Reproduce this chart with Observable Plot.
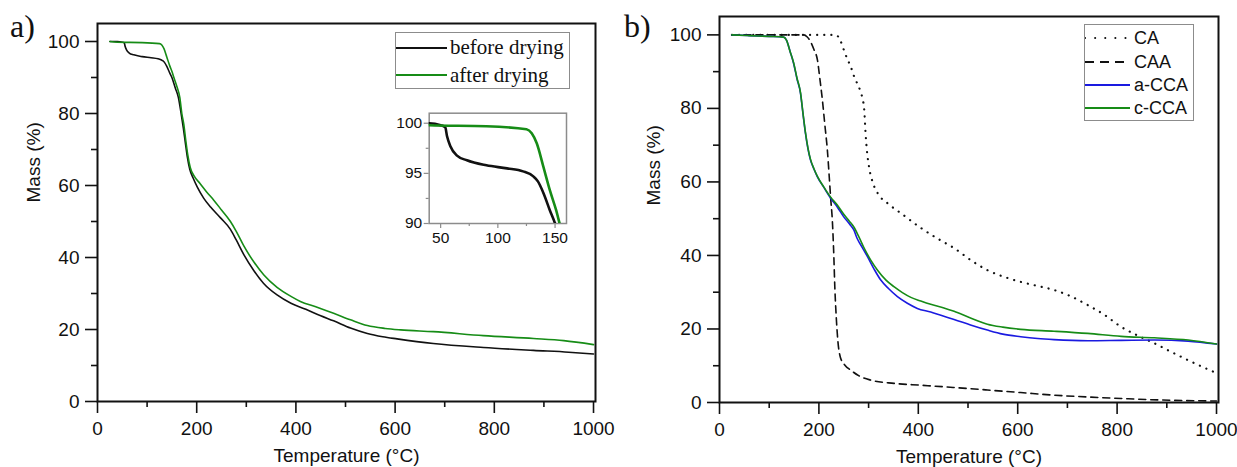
<!DOCTYPE html>
<html><head><meta charset="utf-8">
<script src="https://cdn.jsdelivr.net/npm/d3@7"></script>
<script src="https://cdn.jsdelivr.net/npm/@observablehq/plot@0.6"></script>
<style>
body{margin:0;background:#fff;}
#root{position:relative;width:1237px;height:467px;overflow:hidden;font-family:"Liberation Sans",Arial,sans-serif;color:#111;}
.plab{position:absolute;font-family:"Liberation Serif","Times New Roman",serif;font-size:32px;line-height:1;}
.leg{position:absolute;border:1px solid #8c8c8c;background:#fff;box-sizing:border-box;}
.row{position:absolute;left:0;display:flex;align-items:center;white-space:nowrap;}
</style></head><body><div id="root"></div>
<script>
// ---------- data (temperature °C, mass %) ----------
const beforeDrying = [[25,100],[40,100],[50,99.8],[54,99.6],[55.6,98.7],[58.5,97.7],[64,96.8],[73,96.3],[90,95.8],[108,95.5],[122,95.2],[131,94.7],[135,94.2],[140,93],[145.5,91.3],[150,90],[157,87],[163,84.5],[168,80.5],[173,76],[177,72],[181,68],[186,64.5],[193,62],[201,59.6],[214,56.5],[228,54],[248,51],[268,47.8],[280,44.8],[295,40.8],[315,36.4],[335,32.8],[362,29.6],[390,27.3],[420,25.6],[450,23.8],[476,22.4],[510,20.4],[544,18.9],[575,18],[604,17.4],[677,16.1],[778,15],[879,14.2],[950,13.7],[1000,13.2]];
const afterDrying = [[25,100],[40,99.8],[90,99.7],[125,99.4],[129.6,99],[134,98],[139.7,95.7],[145.5,93.3],[151,91.3],[154,90],[160,87.5],[166,84.4],[170,80],[174,77],[178,72.5],[182,68.5],[187,65],[195,62.6],[207,60.5],[220,58.2],[234,56],[250,53.2],[268,50],[280,47.2],[295,43.2],[315,38.8],[335,35.2],[362,31.7],[390,29.2],[409,27.8],[440,26.3],[476,24.5],[510,22.7],[544,21.1],[580,20.3],[611,19.9],[677,19.4],[778,18.3],[879,17.5],[940,16.9],[1000,15.8]];

const CA = [[25,100],[100,100],[200,100],[234,100],[243,98.5],[250,96],[257,93.5],[264,91.4],[270,89],[277,86.8],[284,84.5],[288,82.5],[291,80],[294,73],[297,68],[301,64],[308,60],[318,57],[340,54],[365,51.5],[405,47.5],[440,44.5],[472,42],[506,38.7],[539,36],[570,34.3],[606,32.8],[640,31.7],[673,30.6],[705,29],[741,26.5],[775,23.8],[808,20.6],[840,18.3],[875,16.1],[910,13.7],[943,11.5],[970,9.8],[1000,8]];
const CAA = [[25,100],[100,100],[170,100],[176,99.5],[183,98.2],[190,96],[197,93.2],[202,88],[207,82.3],[212,75.5],[217,68.7],[221,61],[224,55],[227,49.6],[230,40],[232,31.5],[235,23],[238,17],[243,12.4],[252,10.2],[264,8.8],[280,7.3],[304,6.1],[351,5.2],[405,4.7],[470,4.1],[539,3.4],[606,2.7],[673,2],[740,1.5],[808,1.1],[860,0.8],[909,0.6],[1000,0.4]];
const aCCA = [[25,100],[60,99.8],[100,99.6],[129,99.4],[135,98.5],[142,95.5],[149,92.3],[156,88],[163,84.1],[168,78.5],[173,73.2],[178,69],[183,66],[190,63.5],[197,61.4],[210,58.5],[224,55.5],[237,53.2],[250,50.5],[262,48.5],[270,47],[277,44.6],[288,42],[298,39.6],[311,36.3],[324.5,33.3],[340,31],[358,28.8],[378,27],[398,25.6],[425,24.6],[450,23.5],[472,22.6],[505,21.1],[539,19.7],[570,18.6],[606,17.9],[640,17.4],[673,17.1],[741,16.8],[808,16.9],[875,17],[943,16.7],[1000,15.9]];
const cCCA = [[25,100],[60,99.8],[100,99.6],[129,99.4],[135,98.5],[142,95.5],[149,92.5],[156,88.2],[163,84.3],[168,78.7],[173,73.4],[178,69.2],[183,66.2],[190,63.6],[197,61.5],[210,58.6],[224,55.8],[237,53.7],[250,51.2],[262,49.2],[270,47.8],[280,45.2],[290,42.3],[304,38.8],[318,36],[335,33.3],[351,31.5],[368,29.9],[385,28.6],[405,27.6],[425,26.7],[450,25.8],[472,24.8],[505,23],[539,21.3],[570,20.5],[606,19.9],[673,19.4],[741,18.8],[808,18],[875,17.6],[943,17],[1000,15.9]];

// ---------- ticks / labels ----------
const xTicks = [0,200,400,600,800,1000];
const xMinor = [100,300,500,700,900];
const yTicks = [0,20,40,60,80,100];
const yMinor = [10,30,50,70,90];
const insetXTicks = [50,100,150];
const insetXMinor = [75,125];
const insetYTicks = [90,95,100];
const insetYMinor = [92.5,97.5];
const xLabel = "Temperature (°C)";
const yLabel = "Mass (%)";
const legendA = ["before drying","after drying"];
const legendB = ["CA","CAA","a-CCA","c-CCA"];

const BLACK = "#111", GREEN = "#168c16", BLUE = "#1a1ae0";
const root = document.getElementById("root");
const FONT = "Liberation Sans, Arial, sans-serif";
const fmt = d => String(d);

const line = (data, stroke, sw, extra = {}) =>
  Plot.line(data, {x: d => d[0], y: d => d[1], stroke, strokeWidth: sw, curve: "monotone-x", ...extra});

function mainAxes(lbDx, lbDy) {
  return [
    Plot.axisX(xTicks, {tickSize: 12, tickPadding: 8, fontSize: 19, strokeWidth: 1.6, tickFormat: fmt, label: null}),
    Plot.axisX(xMinor, {tickSize: 6, tickFormat: () => "", strokeWidth: 1.6, label: null}),
    Plot.axisY(yTicks, {tickSize: 12, tickPadding: 6, fontSize: 19, strokeWidth: 1.6, tickFormat: fmt, label: null}),
    Plot.axisY(yMinor, {tickSize: 6, tickFormat: () => "", strokeWidth: 1.6, label: null}),
    Plot.frame({stroke: BLACK, strokeWidth: 2}),
    Plot.text([xLabel], {frameAnchor: "bottom", dy: 60, fontSize: 19, fill: BLACK}),
    Plot.text([yLabel], {frameAnchor: "left", rotate: -90, dx: lbDx, dy: lbDy, fontSize: 19, fill: BLACK})
  ];
}

// ---------- panel a ----------
const plotA = Plot.plot({
  width: 620, height: 467,
  marginLeft: 97, marginRight: 25, marginTop: 23, marginBottom: 66,
  x: {domain: [0, 1004]}, y: {domain: [0, 105]},
  style: {background: "transparent", fontFamily: FONT, color: BLACK, overflow: "visible"},
  marks: [
    ...mainAxes(-64, -10),
    line(beforeDrying, BLACK, 1.6),
    line(afterDrying, GREEN, 1.6)
  ]
});
plotA.style.position = "absolute"; plotA.style.left = "0px"; plotA.style.top = "0px";
root.appendChild(plotA);

// ---------- inset ----------
const inset = Plot.plot({
  width: 200, height: 170,
  marginLeft: 48.7, marginRight: 14, marginTop: 22.7, marginBottom: 37,
  x: {domain: [40, 160]}, y: {domain: [90, 101]},
  style: {background: "transparent", fontFamily: FONT, color: BLACK, overflow: "visible"},
  marks: [
    Plot.axisX(insetXTicks, {tickSize: 5, tickPadding: 3, fontSize: 15.5, stroke: "#8c8c8c", strokeWidth: 1.2, tickFormat: fmt, label: null}),
    Plot.axisX(insetXMinor, {tickSize: 3, tickFormat: () => "", stroke: "#8c8c8c", strokeWidth: 1.2, label: null}),
    Plot.axisY(insetYTicks, {tickSize: 5, tickPadding: 2, fontSize: 15.5, stroke: "#8c8c8c", strokeWidth: 1.2, tickFormat: fmt, label: null}),
    Plot.axisY(insetYMinor, {tickSize: 3, tickFormat: () => "", stroke: "#8c8c8c", strokeWidth: 1.2, label: null}),
    Plot.frame({stroke: "#8c8c8c", strokeWidth: 1.5}),
    line(beforeDrying, BLACK, 2.6, {clip: true}),
    line(afterDrying, GREEN, 2.6, {clip: true})
  ]
});
inset.style.position = "absolute"; inset.style.left = "380px"; inset.style.top = "90px";
root.appendChild(inset);

// ---------- panel b ----------
const plotB = Plot.plot({
  width: 617, height: 467,
  marginLeft: 99, marginRight: 19, marginTop: 16, marginBottom: 65,
  x: {domain: [0, 1004]}, y: {domain: [0, 105]},
  style: {background: "transparent", fontFamily: FONT, color: BLACK, overflow: "visible"},
  marks: [
    ...mainAxes(-66, -4),
    line(CA, BLACK, 2.2, {strokeDasharray: "0.1 7", strokeLinecap: "round"}),
    line(CAA, BLACK, 1.6, {strokeDasharray: "7 5"}),
    line(aCCA, BLUE, 1.6),
    line(cCCA, GREEN, 1.6)
  ]
});
plotB.style.position = "absolute"; plotB.style.left = "620px"; plotB.style.top = "0px";
root.appendChild(plotB);

// ---------- panel labels ----------
function addLabel(text, left, top) {
  const d = document.createElement("div");
  d.className = "plab"; d.textContent = text;
  d.style.left = left + "px"; d.style.top = top + "px";
  root.appendChild(d);
}
addLabel("a)", 10, 10);
addLabel("b)", 624, 10);

// ---------- legends ----------
function swatch(w, stroke, sw, dash, cap) {
  const ns = "http://www.w3.org/2000/svg";
  const s = document.createElementNS(ns, "svg");
  s.setAttribute("width", w); s.setAttribute("height", 6);
  const l = document.createElementNS(ns, "line");
  l.setAttribute("x1", 0); l.setAttribute("x2", w); l.setAttribute("y1", 3); l.setAttribute("y2", 3);
  l.setAttribute("stroke", stroke); l.setAttribute("stroke-width", sw);
  if (dash) l.setAttribute("stroke-dasharray", dash);
  if (cap) l.setAttribute("stroke-linecap", cap);
  s.appendChild(l);
  return s;
}
function legend(box, items, rowsY, sw, font, gap) {
  const d = document.createElement("div");
  d.className = "leg";
  Object.assign(d.style, {left: box[0] + "px", top: box[1] + "px", width: box[2] + "px", height: box[3] + "px"});
  items.forEach((it, i) => {
    const r = document.createElement("div");
    r.className = "row";
    r.style.top = (rowsY[i] - box[1] - 14) + "px";
    r.style.height = "28px";
    r.appendChild(swatch(sw, it.stroke, it.width, it.dash, it.cap));
    const t = document.createElement("span");
    t.textContent = it.label;
    Object.assign(t.style, font, {marginLeft: gap + "px"});
    r.appendChild(t);
    d.appendChild(r);
  });
  root.appendChild(d);
}
legend([395, 32, 175, 57],
  [{label: legendA[0], stroke: BLACK, width: 2}, {label: legendA[1], stroke: GREEN, width: 2}],
  [46.5, 74], 51, {fontFamily: "Liberation Serif, Times New Roman, serif", fontSize: "21px"}, 3);
legend([1084, 24, 110, 97],
  [{label: legendB[0], stroke: BLACK, width: 2, dash: "0.1 10", cap: "round"},
   {label: legendB[1], stroke: BLACK, width: 1.8, dash: "9 6"},
   {label: legendB[2], stroke: BLUE, width: 2},
   {label: legendB[3], stroke: GREEN, width: 2}],
  [37.3, 61, 84.3, 107.3], 45, {fontFamily: FONT, fontSize: "18px"}, 4);
</script></body></html>
